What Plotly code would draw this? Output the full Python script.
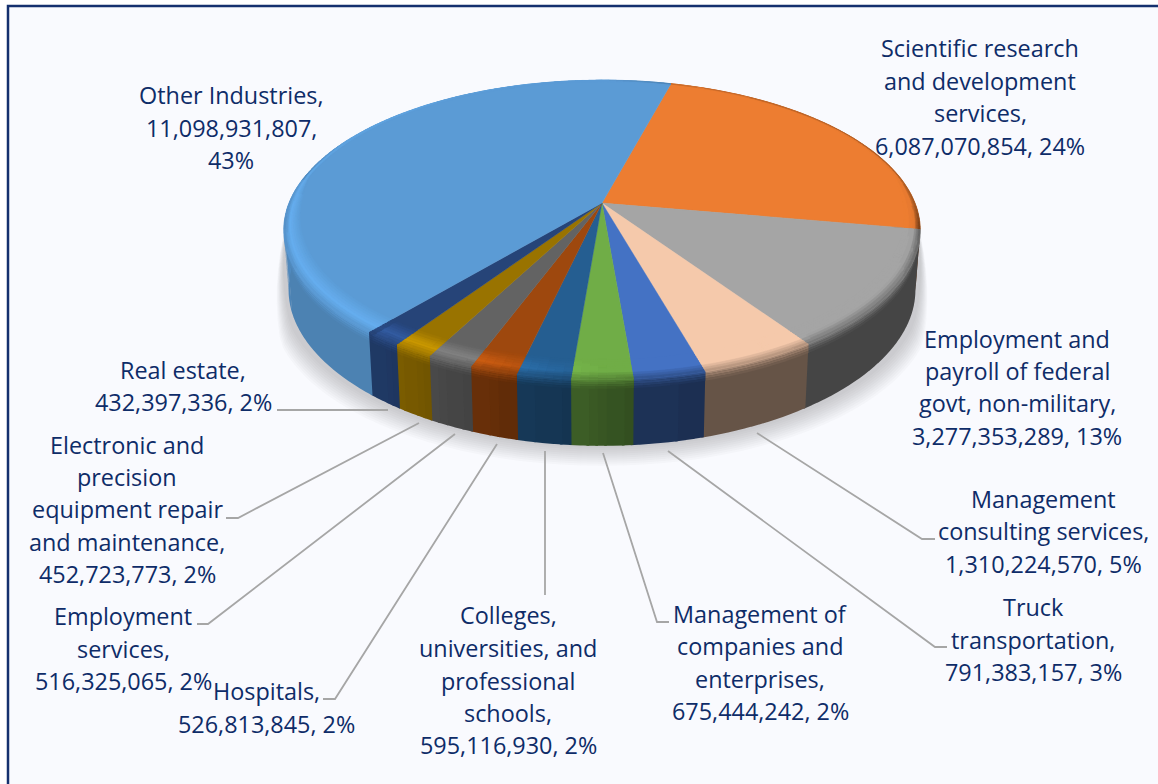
import numpy as np
import plotly.graph_objects as go

# ---------- data ----------
categories = ["Scientific research and development services",
              "Employment and payroll of federal govt, non-military",
              "Management consulting services", "Truck transportation",
              "Management of companies and enterprises",
              "Colleges, universities, and professional schools", "Hospitals",
              "Employment services", "Electronic and precision equipment repair and maintenance",
              "Real estate", "Other Industries"]
values = [6087070854, 3277353289, 1310224570, 791383157, 675444242, 595116930,
          526813845, 516325065, 452723773, 432397336, 11098931807]
percents = [24, 13, 5, 3, 2, 2, 2, 2, 2, 2, 43]
wrapped = [["Scientific research", "and development", "services,", "{v}, {p}%"],
           ["Employment and", "payroll of federal", "govt, non-military,", "{v}, {p}%"],
           ["Management", "consulting services,", "{v}, {p}%"],
           ["Truck", "transportation,", "{v}, {p}%"],
           ["Management of", "companies and", "enterprises,", "{v}, {p}%"],
           ["Colleges,", "universities, and", "professional", "schools,", "{v}, {p}%"],
           ["Hospitals,", "{v}, {p}%"],
           ["Employment", "services,", "{v}, {p}%"],
           ["Electronic and", "precision", "equipment repair", "and maintenance,", "{v}, {p}%"],
           ["Real estate,", "{v}, {p}%"],
           ["Other Industries,", "{v},", "{p}%"]]
colors = ["#ED7D31", "#A5A5A5", "#F5C9AB", "#4472C4", "#70AD47", "#255E91",
          "#9E480E", "#636363", "#997300", "#264478", "#5B9BD5"]

# ---------- layout of labels (pixel positions, separate from the data) ----------
label_pos = [(980, [48, 81, 113, 146]), (1017, [339, 371, 403, 436]), (1043, [499, 531, 564]),
             (1033, [607, 640, 672]), (760, [614, 646, 679, 711]), (508, [615, 648, 681, 713, 745]),
             (266, [691, 724]), (123, [616, 649, 681]), (127, [445, 477, 509, 542, 574]),
             (183, [370, 402]), (231, [95, 128, 160])]
leaders = [[(757, 433), (922, 539), (935, 539)], [(668, 451), (935, 647), (947, 647)],
           [(603, 453), (657, 622), (669, 622)], [(545, 451), (545, 595)],
           [(497, 444), (335, 699), (323, 699)], [(455, 434), (208, 624), (197, 624)],
           [(419, 423), (238, 518), (226, 518)], [(388, 410), (277, 410)]]

CX, CY, RX, RY, P = 602.0, 203.0, 313.0, 145.0, 0.18
START = 15.0


def rim(theta, r=1.0):
    t = np.radians(theta)
    X, Y = r * np.sin(t), r * np.cos(t)
    w = 1 + P * Y
    return CX + RX * X / w, CY - RY * Y / w


TH = [0, 85, 100, 145, 165, 175, 185, 195, 205, 219, 240, 262, 280, 360]
SIDE = [.8, .7, .42, .42, .42, .45, .56, .62, .72, .85, .84, .86, 1, 1]
LT = [0, 90, 150, 180, 188, 200, 218.9, 219.1, 265, 300, 360]
LV = [1.0, .98, 1.0, 1.0, 1.1, 1.3, 1.35, 1.13, 1.13, 1.04, 1.0]
ET = [0, 15, 90, 100, 280, 300, 360]
EV = [1.0, .82, .66, .42, .86, 1.05, 1.0]


def side_f(th):
    return float(np.interp(th % 360, TH, SIDE))


def hl_f(th):
    return float(np.interp(th % 360, LT, LV))


def edge_f(th):
    n = th % 360
    if 100 <= n <= 280:
        # the fade to the wall colour straddles the rim at the front
        return side_f(n) + fade_w(n) * (hl_f(n) - side_f(n)) * 0.5
    return float(np.interp(n, ET, EV))


def fade_w(th):
    return max(0.0, min(1.0, (-np.cos(np.radians(th)) + 0.1) / 0.6))


def shade(hex_c, f):
    f = round(f / 0.02) * 0.02
    rgb = [int(hex_c[i:i + 2], 16) for i in (1, 3, 5)]
    return "#%02X%02X%02X" % tuple(int(min(255, c * f)) for c in rgb)


def depth(th):
    c = np.cos(np.radians(th))
    return 60 + 6 * c * c


def bevel_w(th):
    # radial width of the rounded edge: thin at the back, wide at the front
    c = -np.cos(np.radians(th))
    return 0.018 + 0.07 * max(0.0, c + 0.18) ** 0.7


def bevel_pt(th, u):
    return rim(th, 1 - bevel_w(th) * (1 - u))


fig = go.Figure()

# soft shadow, only below and beside the wall
ths = np.arange(0, 360.5, 3.0)
for k in range(1, 11):
    xs, ys = [], []
    for th in ths:
        x, y = rim(th)
        front = min(1.0, max(0.0, -np.cos(np.radians(th)) + 0.12) / 0.5)
        xs.append(CX + (x - CX) * (1 + 0.0034 * k * front))
        ys.append(y + front * (depth(th) + 2.0 * k))
    fig.add_trace(go.Scatter(x=xs, y=ys, fill="toself", mode="none",
                             fillcolor="rgba(80,80,85,0.028)", hoverinfo="skip"))

total = sum(values)
edges = START + np.cumsum([0] + values) / total * 360
STEP = 1.5


def add_group(groups, xs, ys, hexc):
    g = groups.setdefault(hexc, ([], []))
    g[0].extend(list(xs) + [None])
    g[1].extend(list(ys) + [None])


def flush(groups, width=0.6):
    for c, (xs, ys) in groups.items():
        fig.add_trace(go.Scatter(x=xs, y=ys, fill="toself", mode="lines", fillcolor=c,
                                 line=dict(color=c, width=width), hoverinfo="skip"))


def arc(a, b):
    n = max(2, int(np.ceil((b - a) / STEP)) + 1)
    return np.linspace(a, b, n)


# side wall (front part only)
BAND = 9.0
for i, (a, b) in enumerate(zip(edges[:-1], edges[1:])):
    flat, band = {}, {}
    for lo, hi in [(a, b), (a - 360, b - 360)]:
        lo2, hi2 = max(lo, 78), min(hi, 282)
        if hi2 <= lo2:
            continue
        t = arc(lo2, hi2)
        for t0, t1 in zip(t[:-1], t[1:]):
            tm = (t0 + t1) / 2
            t1x = t1 + 0.4  # small overlap hides seams between neighbouring quads
            x0, y0 = rim(t0)
            x1, y1 = rim(t1x)
            bx = lambda v: CX + (v - CX) * 0.985
            s = side_f(tm)
            add_group(flat, [x0, x1, bx(x1), bx(x0)],
                      [y0, y1, y1 + depth(t1x), y0 + depth(t0)], shade(colors[i], s))
            if 100 <= tm % 360 <= 280:
                h = BAND * fade_w(tm)
                e = edge_f(tm)
                for j in range(4):
                    z0, z1 = h * j / 4, h * (j + 1) / 4
                    add_group(band, [x0, x1, x1, x0], [y0 + z0, y1 + z0, y1 + z1, y0 + z1],
                              shade(colors[i], e + (s - e) * (j + .5) / 4))
    flush(flat, 0)
    flush(band, 0)

# top faces
for i, (a, b) in enumerate(zip(edges[:-1], edges[1:])):
    t = arc(a, b)
    px, py = rim(t)
    fig.add_trace(go.Scatter(x=[CX] + list(px) + [CX], y=[CY] + list(py) + [CY], fill="toself",
                             mode="lines", fillcolor=colors[i], line=dict(color=colors[i], width=0.4),
                             name=categories[i], text=f"{categories[i]}: {values[i]:,} ({percents[i]}%)",
                             hoverinfo="text"))

# rounded edge of the top face
US = np.linspace(0, 1, 10)
for i, (a, b) in enumerate(zip(edges[:-1], edges[1:])):
    groups = {}
    t = arc(a, b)
    for t0, t1 in zip(t[:-1], t[1:]):
        tm = (t0 + t1) / 2
        L, E = hl_f(tm), edge_f(tm)
        for u0, u1 in zip(US[:-1], US[1:]):
            um = (u0 + u1) / 2
            f = 1 + (L - 1) * um / .6 if um < .6 else L + (E - L) * (um - .6) / .4
            p = [bevel_pt(t0, u0), bevel_pt(t1, u0), bevel_pt(t1, u1), bevel_pt(t0, u1)]
            add_group(groups, [q[0] for q in p], [q[1] for q in p], shade(colors[i], f))
    flush(groups)

# leader lines
for pts in leaders:
    fig.add_trace(go.Scatter(x=[p[0] for p in pts], y=[p[1] for p in pts], mode="lines",
                             line=dict(color="#A6A6A6", width=1.8), hoverinfo="skip"))

# labels: one annotation per line so the line pitch matches
annotations = []
for lines, (cx, ys), v, p in zip(wrapped, label_pos, values, percents):
    for line, y in zip(lines, ys):
        annotations.append(dict(x=cx, y=y, xref="x", yref="y", showarrow=False, xanchor="center",
                                yanchor="middle", text=line.format(v=f"{v:,}", p=p),
                                font=dict(family="Open Sans", size=23.4, color="#0E2C68")))

fig.update_layout(
    width=1158, height=784, margin=dict(l=0, r=0, t=0, b=0), showlegend=False,
    paper_bgcolor="white", plot_bgcolor="white",
    xaxis=dict(range=[0, 1158], visible=False, fixedrange=True),
    yaxis=dict(range=[784, 0], visible=False, fixedrange=True),
    annotations=annotations,
    shapes=[dict(type="rect", xref="x", yref="y", x0=8, y0=6, x1=1300, y1=900, layer="below",
                 fillcolor="#F9FAFE", line=dict(color="#14306E", width=2.5))],
)
fig.write_html("out.html", post_script="document.body.style.margin='0';", config={"displayModeBar": False})
